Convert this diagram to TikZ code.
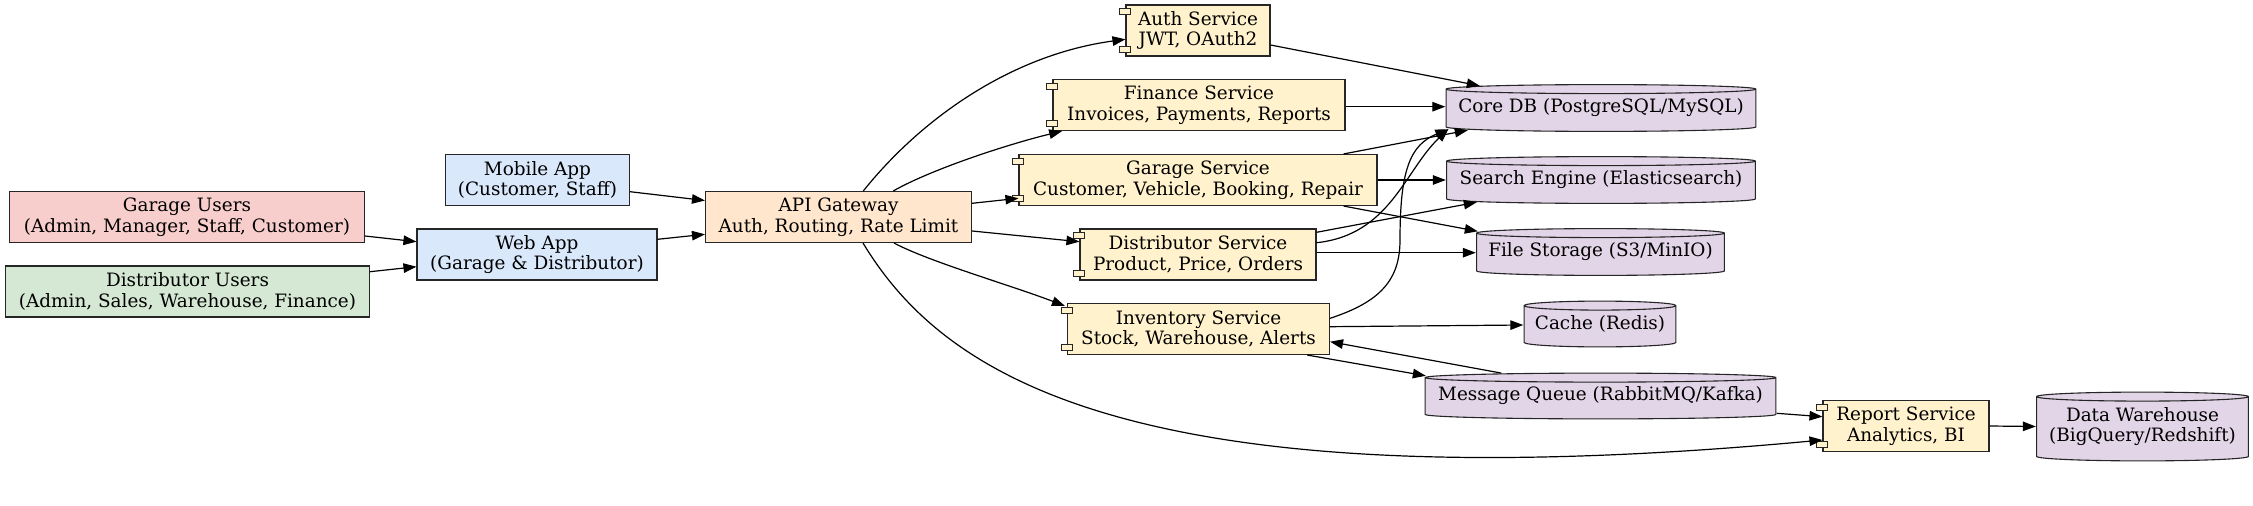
\documentclass[tikz,border=0pt]{standalone}
\usepackage{fontspec}
\setmainfont{DejaVu Serif}
\usetikzlibrary{arrows.meta,calc}

\definecolor{userpink}{HTML}{F8CECC}
\definecolor{usergreen}{HTML}{D5E8D4}
\definecolor{appblue}{HTML}{DAE8FC}
\definecolor{gwpeach}{HTML}{FFE6CC}
\definecolor{svcyellow}{HTML}{FFF2CC}
\definecolor{dbpurple}{HTML}{E1D5E7}

\begin{document}
\begin{tikzpicture}[x=1pt, y=-1pt,
	box/.style={rectangle, draw=black!85, line width=1.1pt, inner sep=0pt, minimum height=51pt, align=center, font={\fontsize{18.4}{20.6}\selectfont}},
	pinbox/.style={rectangle, anchor=center, draw=black!85, line width=1pt, fill=svcyellow, minimum width=11pt, minimum height=6pt, inner sep=0pt},
	svc/.style={box, fill=svcyellow,
		label={[pinbox, yshift=-7.2pt]north west:{}},
		label={[pinbox, yshift=7.5pt]south west:{}}},
	db/.style={rectangle, inner sep=0pt, minimum height=47pt, align=center, font={\fontsize{18.4}{20.6}\selectfont},
		path picture={
			\draw[fill=dbpurple, draw=black!85, line width=1.1pt]
				let \p1=($(path picture bounding box.south west)+(0.6pt,0.6pt)$),
				    \p2=($(path picture bounding box.north east)+(-0.6pt,-0.6pt)$),
				    \n1={(\x2-\x1)/2} in
				(\x1,\y2-4.5pt) -- (\x1,\y1+4.5pt)
				arc[start angle=180, end angle=360, x radius=\n1*1pt, y radius=4.5pt]
				-- (\x2,\y2-4.5pt)
				arc[start angle=0, end angle=180, x radius=\n1*1pt, y radius=4.5pt] -- cycle
				(\x1,\y2-4.5pt) arc[start angle=180, end angle=360, x radius=\n1*1pt, y radius=4.5pt];
		}},
	conn/.style={line width=1.2pt, -{Triangle[length=13pt, width=9.5pt]}}]

	\fill[white] (0,0) rectangle (2253,467);

	% users and clients
	\node[box, fill=userpink, minimum width=355pt] (gusers) at (187,217) {Garage Users\\(Admin, Manager, Staff, Customer)};
	\node[box, fill=usergreen, minimum width=364pt] (dusers) at (187.5,291.5) {Distributor Users\\(Admin, Sales, Warehouse, Finance)};
	\node[box, fill=appblue, minimum width=184pt] (mobile) at (537.5,180) {Mobile App\\(Customer, Staff)};
	\node[box, fill=appblue, minimum width=240pt] (web) at (537,254.5) {Web App\\(Garage \& Distributor)};
	\node[box, fill=gwpeach, minimum width=266pt] (gateway) at (838.5,217) {API Gateway\\Auth, Routing, Rate Limit};

	% services
	\node[svc, minimum width=144pt] (auth) at (1198,30.5) {Auth Service\\JWT, OAuth2};
	\node[svc, minimum width=292pt] (finance) at (1199,105) {Finance Service\\Invoices, Payments, Reports};
	\node[svc, minimum width=358pt] (garagesvc) at (1198,180) {Garage Service\\Customer, Vehicle, Booking, Repair};
	\node[svc, minimum width=236pt] (distsvc) at (1198,254.5) {Distributor Service\\Product, Price, Orders};
	\node[svc, minimum width=262pt] (inventory) at (1198.5,329) {Inventory Service\\Stock, Warehouse, Alerts};
	\node[svc, minimum width=166pt] (report) at (1906,426) {Report Service\\Analytics, BI};

	% storage
	\node[db, minimum width=311pt, minimum height=48pt] (coredb) at (1601,108) {Core DB (PostgreSQL/MySQL)};
	\node[db, minimum width=310pt, minimum height=48pt] (search) at (1601,180) {Search Engine (Elasticsearch)};
	\node[db, minimum width=249pt, minimum height=48pt] (files) at (1600.5,252) {File Storage (S3/MinIO)};
	\node[db, minimum width=153pt] (cache) at (1600,324) {Cache (Redis)};
	\node[db, minimum width=352pt] (mq) at (1600.5,396) {Message Queue (RabbitMQ/Kafka)};
	\node[db, minimum width=213pt, minimum height=70pt] (warehouse) at (2142.5,426.5) {Data Warehouse\\(BigQuery/Redshift)};

	% clients to gateway
	\draw[conn] ([yshift=-19pt]gusers.east) -- ([yshift=12.8pt]web.west);
	\draw[conn] ([yshift=19.8pt]dusers.east) -- ([yshift=-12.2pt]web.west);
	\draw[conn] ([yshift=-11.7pt]mobile.east) -- ([yshift=16.5pt]gateway.west);
	\draw[conn] ([yshift=15.2pt]web.east) -- ([yshift=-17.3pt]gateway.west);

	% gateway to services
	\draw[conn] ([xshift=24.8pt]gateway.north) .. controls (920,120) and (1010,55) .. ([yshift=-8.8pt]auth.west);
	\draw[conn] ([xshift=54.8pt]gateway.north) .. controls (930,170) and (1005,145) .. ([xshift=9.7pt]finance.south west);
	\draw[conn] ([yshift=13.7pt]gateway.east) -- ([yshift=-18.3pt]garagesvc.west);
	\draw[conn] ([yshift=-14pt]gateway.east) -- ([yshift=12.8pt]distsvc.west);
	\draw[conn] ([xshift=55.5pt]gateway.south) .. controls (930,262) and (1010,285) .. ([xshift=-2pt,yshift=-3pt]inventory.north west);
	\draw[conn] ([xshift=24.5pt]gateway.south) .. controls (940,370) and (1120,505) .. ([yshift=-14pt]report.west);

	% services to storage
	\draw[conn] ([yshift=-14.5pt]auth.east) -- ([xshift=34.5pt,yshift=-2pt]coredb.north west);
	\draw[conn] ([yshift=-1.7pt]finance.east) -- ([yshift=1.3pt]coredb.west);
	\draw[conn] ([xshift=-34pt]garagesvc.north east) -- ([xshift=22.5pt,yshift=2pt]coredb.south west);
	\draw[conn] (garagesvc.east) -- (search.west);
	\draw[conn] ([xshift=-34pt]garagesvc.south east) -- ([xshift=2pt,yshift=-3.5pt]files.north west);
	\draw[conn] ([yshift=11.8pt]distsvc.east) .. controls (1390,235) and (1405,170) .. ([xshift=3pt,yshift=3pt]coredb.south west);
	\draw[conn] ([yshift=22.2pt]distsvc.east) -- ([xshift=31pt,yshift=2pt]search.south west);
	\draw[conn] ([yshift=1.8pt]distsvc.east) -- ([yshift=-0.7pt]files.west);
	\draw[conn] ([yshift=10.7pt]inventory.east) .. controls (1380,302) and (1400,280) .. (1400,240)
		.. controls (1400,170) and (1410,145) .. ([xshift=3pt,yshift=3pt]coredb.south west);
	\draw[conn] ([yshift=2.3pt]inventory.east) -- ([yshift=-1pt]cache.west);
	\draw[conn] ([xshift=-22.8pt]inventory.south east) -- ([xshift=1.5pt,yshift=-3.5pt]mq.north west);
	\draw[conn] ([xshift=77pt,yshift=-0.8pt]mq.north west) -- ([yshift=-12.7pt]inventory.east);
	\draw[conn] ([yshift=-17.3pt]mq.east) -- ([yshift=9.3pt]report.west);
	\draw[conn] (report.east) -- (warehouse.west);
\end{tikzpicture}
\end{document}
